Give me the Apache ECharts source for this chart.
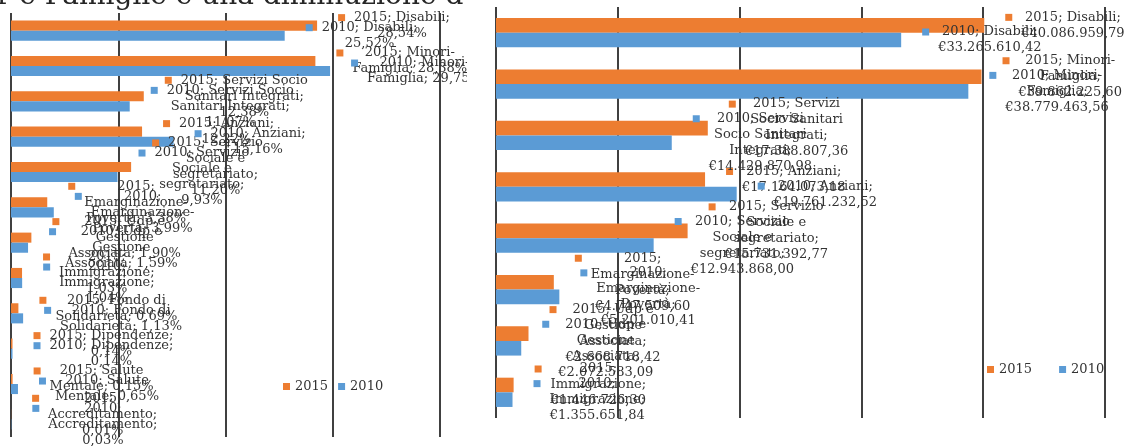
<!DOCTYPE html>
<html>
<head>
<meta charset="utf-8">
<script src="https://cdn.jsdelivr.net/npm/echarts@6/dist/echarts.min.js"></script>
<style>
  html, body { margin: 0; padding: 0; background: #fff; }
  #main { width: 1142px; height: 446px; }
</style>
</head>
<body>
<div id="main"></div>
<script>
// aree di intervento (dall'alto in basso)
var categorie = ['Disabili', 'Minori-Famiglia', 'Servizi Socio Sanitari Integrati', 'Anziani',
  'Servizio Sociale e segretariato', 'Emarginazione-Povertà', 'Udp e Gestione Associata',
  'Immigrazione', 'Fondo di Solidarietà', 'Dipendenze', 'Salute Mentale', 'Accreditamento'];
var anni = ['2015', '2010'];

// quota percentuale della spesa
var perc2015 = [28.54, 28.38, 12.38, 12.22, 11.20, 3.38, 1.90, 1.03, 0.69, 0.14, 0.15, 0.01];
var perc2010 = [25.52, 29.75, 11.07, 15.16, 9.93, 3.99, 1.59, 1.04, 1.13, 0.14, 0.65, 0.03];

// spesa in euro (solo le prime 8 aree sono visibili)
var euro2015 = [40086959.79, 39862225.60, 17388807.36, 17164073.18, 15731392.77, 4747509.60, 2668718.42, 1446726.30];
var euro2010 = [33265610.42, 38779463.56, 14429870.98, 19761232.52, 12943868.00, 5201010.41, 2072583.09, 1355651.84];

var arancio = '#ED7D31', azzurro = '#5B9BD5';
var font = 'DejaVu Serif';

var ctx = document.createElement('canvas').getContext('2d');
ctx.font = '13px "' + font + '"';

// va a capo come Excel: dopo gli spazi e dopo i trattini
function aCapo(testo, maxW) {
  var pezzi = [];
  testo.split(' ').forEach(function (parola) {
    parola.split(/(?<=-)/).forEach(function (p, i) { pezzi.push({ t: p, sep: i ? '' : ' ' }); });
  });
  var righe = [], riga = '';
  pezzi.forEach(function (p) {
    var prova = riga ? riga + p.sep + p.t : p.t;
    if (riga && ctx.measureText(prova).width > maxW) { righe.push(riga); riga = p.t; }
    else riga = prova;
  });
  righe.push(riga);
  return righe;
}

function fmtPerc(v) { return v.toFixed(2).replace('.', ',') + '%'; }
function fmtEuro(v) {
  var parti = v.toFixed(2).split('.');
  return '€' + parti[0].replace(/\B(?=(\d{3})+(?!\d))/g, '.') + ',' + parti[1];
}

function serie(nome, dati, colore, asse, maxW, fmt) {
  return {
    name: nome,
    type: 'bar',
    xAxisIndex: asse,
    yAxisIndex: asse,
    data: dati,
    barGap: '0%',
    barCategoryGap: '43%',
    itemStyle: { color: colore },
    label: {
      show: true,
      position: 'right',
      distance: 21,
      formatter: function (p) {
        var righe = aCapo(p.seriesName + '; ' + p.name + '; ' + fmt(p.value), maxW);
        return righe.map(function (r, i) {
          return (i ? '{s|}' : '{k|}{g|}') + '{t|' + r + '}';
        }).join('\n');
      },
      rich: {
        k: { width: 7, height: 7, backgroundColor: colore, lineHeight: 16 },
        g: { width: 9, lineHeight: 16 },
        s: { width: 16, lineHeight: 16 },
        t: { align: 'center', fontFamily: font, fontSize: 13, color: '#333', lineHeight: 16 }
      }
    }
  };
}

var myChart = echarts.init(document.getElementById('main'));

var asseValori = {
  type: 'value',
  min: 0,
  axisLabel: { show: false },
  axisLine: { show: false },
  axisTick: { show: false },
  splitLine: { lineStyle: { color: '#404040', width: 2 } }
};
var asseCategorie = {
  type: 'category',
  inverse: true,
  axisLabel: { show: false },
  axisLine: { show: false },
  axisTick: { show: false }
};
var legenda = {
  data: anni,
  icon: 'rect',
  itemWidth: 7,
  itemHeight: 7,
  padding: 0,
  selectedMode: false,
  textStyle: { fontFamily: font, fontSize: 13, color: '#333' }
};

var option = {
  animation: false,
  color: [arancio, azzurro],
  grid: [
    { left: 11, top: 13, width: 429, height: 424 },
    { left: 496, top: 7, width: 609, height: 411 }
  ],
  xAxis: [
    Object.assign({ gridIndex: 0, max: 40, interval: 10 }, asseValori),
    Object.assign({ gridIndex: 1, max: 50000000, interval: 10000000 }, asseValori)
  ],
  yAxis: [
    Object.assign({ gridIndex: 0, data: categorie }, asseCategorie),
    Object.assign({ gridIndex: 1, data: categorie.slice(0, 8) }, asseCategorie)
  ],
  legend: [
    Object.assign({ left: 283, top: 380, itemGap: 10 }, legenda),
    Object.assign({ left: 987, top: 363, itemGap: 27 }, legenda)
  ],
  series: [
    serie(anni[0], perc2015, arancio, 0, 128, fmtPerc),
    serie(anni[1], perc2010, azzurro, 0, 128, fmtPerc),
    serie(anni[0], euro2015, arancio, 1, 120, fmtEuro),
    serie(anni[1], euro2010, azzurro, 1, 120, fmtEuro)
  ],
  graphic: [
    // titolo tagliato in alto nell'originale
    { type: 'text', x: -3, y: 11, z: 100,
      style: { text: 'r e Famiglie e una diminuzione d', font: '28px "' + font + '"', fill: '#262626', verticalAlign: 'bottom' } },
    // il grafico di sinistra è ritagliato a destra
    { type: 'rect', z: 99, shape: { x: 467, y: 0, width: 27, height: 446 }, style: { fill: '#fff' } }
  ]
};

myChart.setOption(option);
</script>
</body>
</html>
